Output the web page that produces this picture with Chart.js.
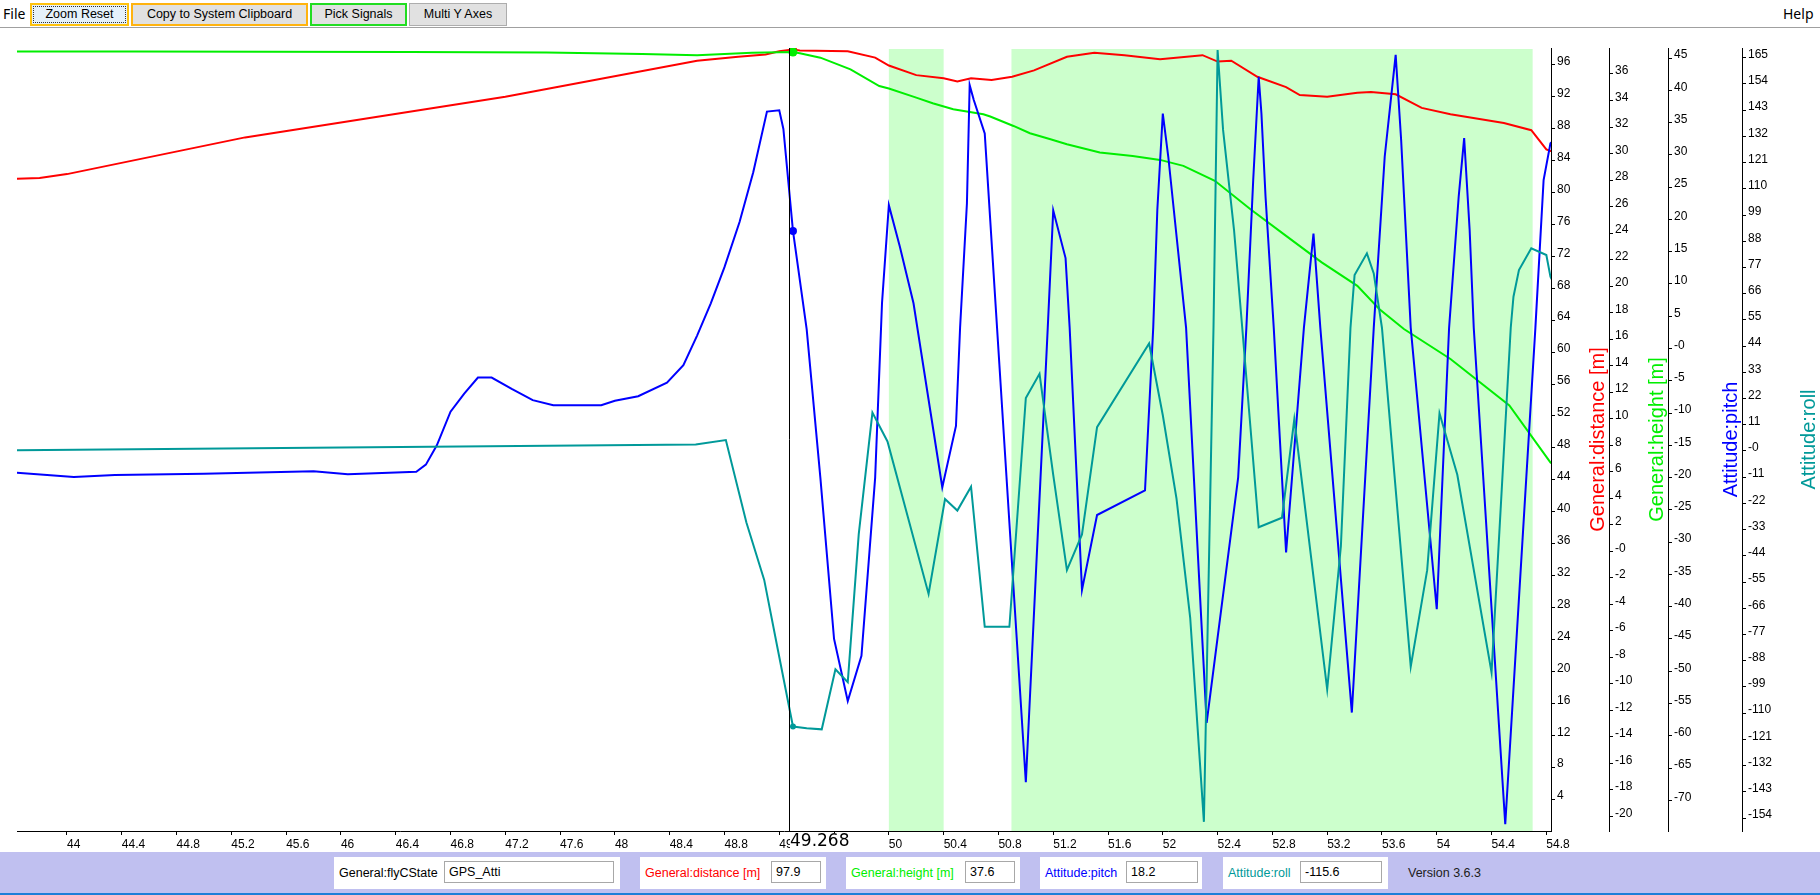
<!DOCTYPE html>
<html>
<head>
<meta charset="utf-8">
<title>Signal viewer</title>
<script src="https://cdn.jsdelivr.net/npm/chart.js@4.4.1/dist/chart.umd.min.js"></script>
<style>
  html, body { margin: 0; padding: 0; background: #fff; width: 1820px; height: 895px; overflow: hidden; font-family: "Liberation Sans", Arial, sans-serif; }
  #toolbar { position: absolute; left: 0; top: 0; width: 1820px; height: 27px; border-bottom: 1px solid #a0a0a0; background: #fff; }
  .menu { position: absolute; top: 4px; font-family: "Noto Sans", sans-serif; font-size: 14px; color: #000; }
  .btn { position: absolute; top: 3px; height: 23px; box-sizing: border-box; background: #e1e1e1; font-family: "Liberation Sans", Arial, sans-serif; font-size: 12.5px; line-height: 19px; text-align: center; color: #000; }
  #chartWrap { position: absolute; left: 0; top: 28px; width: 1820px; height: 824px; }
  #status { position: absolute; left: 0; top: 852px; width: 1820px; height: 41px; background: #c0c0f0; border-bottom: 2px solid #1e7fd8; }
  .box { position: absolute; top: 5px; height: 32px; background: #fff; }
  .lbl { position: absolute; top: 9px; font-size: 12.5px; white-space: nowrap; }
  .inp { position: absolute; top: 4px; height: 22px; box-sizing: border-box; border: 1px solid #a8a8a8; background: #fff; font-size: 12.5px; line-height: 20px; padding-left: 4px; color: #000; }
  #version { position: absolute; left: 1408px; top: 14px; font-size: 12.5px; color: #202020; }
</style>
</head>
<body>
<div id="toolbar">
  <div class="menu" style="left:3px;">File</div>
  <div class="btn" style="left:30px;width:99px;border:2px solid #ffc20e;background:#e5f1fb;"><div style="border:1px dotted #333;height:15px;line-height:15px;margin:1px;">Zoom Reset</div></div>
  <div class="btn" style="left:131px;width:177px;border:2px solid #ffb30f;">Copy to System Clipboard</div>
  <div class="btn" style="left:310px;width:97px;border:2px solid #22dd22;">Pick Signals</div>
  <div class="btn" style="left:409px;width:98px;border:1px solid #adadad;line-height:21px;">Multi Y Axes</div>
  <div class="menu" style="left:1783px;">Help</div>
</div>
<div id="chartWrap"><canvas id="plot" width="1820" height="824"></canvas></div>
<div id="status">
  <div class="box" style="left:334px;width:286px;">
    <div class="lbl" style="left:5px;color:#000;">General:flyCState</div>
    <div class="inp" style="left:110px;width:170px;">GPS_Atti</div>
  </div>
  <div class="box" style="left:640px;width:186px;">
    <div class="lbl" style="left:5px;color:#ff0000;">General:distance [m]</div>
    <div class="inp" style="left:131px;width:50px;">97.9</div>
  </div>
  <div class="box" style="left:846px;width:174px;">
    <div class="lbl" style="left:5px;color:#00ee00;">General:height [m]</div>
    <div class="inp" style="left:119px;width:50px;">37.6</div>
  </div>
  <div class="box" style="left:1040px;width:162px;">
    <div class="lbl" style="left:5px;color:#0000ff;">Attitude:pitch</div>
    <div class="inp" style="left:86px;width:72px;">18.2</div>
  </div>
  <div class="box" style="left:1223px;width:165px;">
    <div class="lbl" style="left:5px;color:#009999;">Attitude:roll</div>
    <div class="inp" style="left:77px;width:82px;">-115.6</div>
  </div>
  <div id="version">Version 3.6.3</div>
</div>

<script>
// ---- data ----
var xTicks = [44, 44.4, 44.8, 45.2, 45.6, 46, 46.4, 46.8, 47.2, 47.6, 48, 48.4, 48.8, 49.2, 49.6, 50, 50.4, 50.8, 51.2, 51.6, 52, 52.4, 52.8, 53.2, 53.6, 54, 54.4, 54.8];
var distTicks = [4, 8, 12, 16, 20, 24, 28, 32, 36, 40, 44, 48, 52, 56, 60, 64, 68, 72, 76, 80, 84, 88, 92, 96];
var heightTicks = [-20, -18, -16, -14, -12, -10, -8, -6, -4, -2, 0, 2, 4, 6, 8, 10, 12, 14, 16, 18, 20, 22, 24, 26, 28, 30, 32, 34, 36];
var pitchTicks = [-70, -65, -60, -55, -50, -45, -40, -35, -30, -25, -20, -15, -10, -5, 0, 5, 10, 15, 20, 25, 30, 35, 40, 45];
var rollTicks = [-154, -143, -132, -121, -110, -99, -88, -77, -66, -55, -44, -33, -22, -11, 0, 11, 22, 33, 44, 55, 66, 77, 88, 99, 110, 121, 132, 143, 154, 165];

// flyCState = GPS_Atti periods (shaded)
var bandStarts = [50.0, 50.895];
var bandEnds = [50.4, 54.70];

var cursorTime = 49.268;
var markerTime = 49.3;

var distTimes = [43.6, 43.8, 44.0, 45.3, 47.2, 48.6, 48.9, 49.1, 49.2, 49.3, 49.35, 49.7, 49.9, 50.0, 50.2, 50.4, 50.5, 50.6, 50.75, 50.9, 51.06, 51.3, 51.5, 51.72, 51.98, 52.29, 52.4, 52.5, 52.69, 52.9, 53.0, 53.2, 53.42, 53.52, 53.7, 53.89, 54.1, 54.49, 54.69, 54.8, 54.83, 54.9];
var distValues = [81.7, 81.8, 82.3, 86.9, 92.0, 96.5, 97.0, 97.3, 97.7, 97.9, 97.8, 97.7, 96.9, 95.9, 94.7, 94.3, 93.9, 94.3, 94.1, 94.5, 95.3, 97.0, 97.5, 97.2, 96.7, 97.2, 96.4, 96.5, 94.5, 93.2, 92.2, 92.0, 92.5, 92.6, 92.3, 90.6, 89.8, 88.7, 87.8, 85.4, 85.2, 85.0];

var heightTimes = [43.6, 44.5, 45.5, 46.5, 47.5, 48.2, 48.6, 49.0, 49.3, 49.35, 49.5, 49.72, 49.93, 50.0, 50.2, 50.32, 50.47, 50.69, 50.74, 50.91, 51.03, 51.18, 51.3, 51.54, 51.78, 51.98, 52.15, 52.38, 52.64, 52.9, 53.16, 53.42, 53.58, 53.76, 54.1, 54.53, 54.83, 54.9];
var heightValues = [37.7, 37.7, 37.68, 37.66, 37.62, 37.5, 37.41, 37.61, 37.66, 37.56, 37.23, 36.35, 35.09, 34.9, 34.22, 33.79, 33.34, 32.96, 32.79, 32.08, 31.53, 31.08, 30.7, 30.08, 29.82, 29.52, 29.07, 27.94, 25.8, 23.79, 21.79, 20.02, 18.27, 16.76, 14.5, 11.0, 6.7, 6.2];

var pitchTimes = [43.6, 44.05, 44.35, 45.0, 45.8, 46.05, 46.55, 46.62, 46.7, 46.8, 46.9, 47.0, 47.1, 47.25, 47.4, 47.55, 47.9, 48.0, 48.17, 48.38, 48.5, 48.6, 48.7, 48.8, 48.91, 49.01, 49.11, 49.2, 49.23, 49.3, 49.4, 49.5, 49.6, 49.7, 49.8, 49.9, 49.95, 50.0, 50.08, 50.18, 50.39, 50.49, 50.52, 50.57, 50.59, 50.62, 50.7, 51.0, 51.16, 51.2, 51.29, 51.32, 51.41, 51.52, 51.87, 51.93, 51.96, 52.0, 52.04, 52.17, 52.32, 52.55, 52.61, 52.66, 52.7, 52.72, 52.75, 52.81, 52.9, 53.03, 53.1, 53.15, 53.38, 53.54, 53.62, 53.7, 53.74, 53.81, 54.0, 54.09, 54.16, 54.2, 54.24, 54.27, 54.5, 54.72, 54.78, 54.83, 54.9];
var pitchValues = [-19.2, -19.9, -19.6, -19.4, -19.0, -19.5, -19.1, -18.0, -15.0, -9.8, -7.0, -4.5, -4.5, -6.3, -8.0, -8.8, -8.8, -8.1, -7.4, -5.3, -2.6, 2.0, 7.0, 12.6, 19.6, 27.3, 36.7, 36.9, 34.0, 18.2, 3.0, -20, -45, -54.6, -47.6, -20, 7.0, 22.2, 15.8, 7.0, -21.5, -12, 3.2, 22.5, 40.8, 38.5, 33.3, -67.2, 3.2, 21.4, 14.0, 3.2, -37.4, -25.8, -22, 3.2, 21.5, 36.4, 29.7, 3.2, -58, -20, 3.2, 26.1, 42.1, 36.4, 23.5, 3.2, -31.6, 3.2, 17.8, 3.2, -56.4, 3.2, 29.7, 45.5, 32.3, 3.2, -40.4, 3.2, 23.5, 32.6, 18.4, 3.2, -73.7, 3.2, 26.1, 31.8, 33];

var rollTimes = [43.6, 48.59, 48.81, 48.96, 49.09, 49.19, 49.3, 49.4, 49.51, 49.61, 49.7, 49.78, 49.88, 49.99, 50.29, 50.41, 50.5, 50.6, 50.7, 50.88, 51.0, 51.1, 51.2, 51.3, 51.41, 51.52, 51.9, 52.0, 52.1, 52.2, 52.3, 52.37, 52.4, 52.44, 52.52, 52.58, 52.7, 52.87, 52.96, 53.1, 53.2, 53.3, 53.37, 53.4, 53.49, 53.54, 53.6, 53.81, 53.93, 54.02, 54.15, 54.4, 54.54, 54.56, 54.6, 54.69, 54.8, 54.83, 54.9];
var rollValues = [0.3, 2.7, 4.6, -30, -54.1, -83.5, -115.6, -116.3, -116.8, -91.6, -97, -35, 16.1, 4, -60, -20.2, -25, -15, -73.8, -73.8, 22.2, 32.4, -10, -50, -35, 10, 45.1, 15, -20, -70, -155.6, 51.6, 168.2, 134.7, 92.7, 51.6, -32, -28, 13.3, -52.8, -100, -40, 51.6, 73.8, 82.9, 74.5, 51.6, -90.5, -50, 15.8, -10, -92.9, 51.6, 64.7, 75.9, 85, 82.2, 73.1, 65];

var axisTitles = ['General:distance [m]', 'General:height [m]', 'Attitude:pitch', 'Attitude:roll'];
var axisIds = ['dist', 'height', 'pitch', 'roll'];
var colors = ['#ff0000', '#00ee00', '#0000ff', '#009999'];

function series(times, values) {
    return times.map(function(t, i) { return {x: t, y: values[i]}; });
}

function markerRadius(r) {
    return function(ctx) {
        return ctx.raw && ctx.raw.x === markerTime ? r : 0;
    };
}

function setTicks(list) {
    return function(scale) {
        scale.ticks = list.map(function(v) { return {value: v}; });
    };
}

function yAxis(min, max, ticks, width) {
    return {
        type: 'linear',
        position: 'right',
        min: min,
        max: max,
        afterBuildTicks: setTicks(ticks),
        afterFit: function(s) { s.width = width; },
        grid: { drawOnChartArea: false, tickLength: 4, color: '#000' },
        border: { color: '#000', width: 1 },
        ticks: {
            autoSkip: false,
            color: '#000',
            padding: 2,
            // second empty line lifts the label a few px above its tick, like the original
            font: { size: 12, lineHeight: 0.5 },
            callback: function(v) { return [v === 0 ? '-0' : String(v), '']; }
        }
    };
}

// shaded GPS_Atti bands, drawn under the lines
var bandPlugin = {
    id: 'bands',
    beforeDatasetsDraw: function(chart) {
        var ctx = chart.ctx, a = chart.chartArea, xs = chart.scales.x;
        ctx.save();
        ctx.fillStyle = '#ccffcc';
        for (var i = 0; i < bandStarts.length; i++) {
            var x0 = xs.getPixelForValue(bandStarts[i]);
            var x1 = xs.getPixelForValue(bandEnds[i]);
            ctx.fillRect(x0, a.top + 1, x1 - x0, a.bottom - a.top - 1);
        }
        ctx.restore();
    }
};

// cursor line, its time label and the rotated axis titles
var overlayPlugin = {
    id: 'overlay',
    afterDatasetsDraw: function(chart) {
        var ctx = chart.ctx, a = chart.chartArea;
        var cx = Math.round(chart.scales.x.getPixelForValue(cursorTime)) + 0.5;
        ctx.save();
        ctx.strokeStyle = '#000';
        ctx.lineWidth = 1;
        ctx.beginPath();
        ctx.moveTo(cx, a.top);
        ctx.lineTo(cx, a.bottom);
        ctx.stroke();
        ctx.restore();
    },
    afterDraw: function(chart) {
        var ctx = chart.ctx, a = chart.chartArea;
        var cx = Math.round(chart.scales.x.getPixelForValue(cursorTime));
        ctx.save();
        ctx.font = '17px "DejaVu Sans", sans-serif';
        var label = cursorTime.toFixed(3);
        var w = ctx.measureText(label).width;
        ctx.fillStyle = '#fff';
        ctx.fillRect(cx + 1, a.bottom + 2, w + 10, 19);
        ctx.fillStyle = '#000';
        ctx.textBaseline = 'top';
        ctx.fillText(label, cx + 1, a.bottom + 2);

        ctx.font = '20px "Liberation Sans", Arial, sans-serif';
        ctx.textAlign = 'center';
        ctx.textBaseline = 'middle';
        var cy = (a.top + a.bottom) / 2;
        for (var i = 0; i < axisIds.length; i++) {
            var s = chart.scales[axisIds[i]];
            ctx.save();
            ctx.translate(s.right - 11, cy);
            ctx.rotate(-Math.PI / 2);
            ctx.fillStyle = colors[i];
            ctx.fillText(axisTitles[i], 0, 0);
            ctx.restore();
        }
        ctx.restore();
    }
};

Chart.defaults.font.family = '"Liberation Sans", Arial, sans-serif';

function lineSet(label, times, values, color, axis, r) {
    return {
        label: label,
        data: series(times, values),
        yAxisID: axis,
        borderColor: color,
        backgroundColor: color,
        pointBackgroundColor: color,
        pointBorderWidth: 0,
        pointRadius: markerRadius(r),
        borderWidth: 2,
        tension: 0,
        fill: false
    };
}

var ctx = document.getElementById('plot').getContext('2d');
var plot = new Chart(ctx, {
    type: 'line',
    data: {
        datasets: [
            lineSet('Attitude:roll', rollTimes, rollValues, colors[3], 'roll', 3),
            lineSet('Attitude:pitch', pitchTimes, pitchValues, colors[2], 'pitch', 4),
            lineSet('General:height [m]', heightTimes, heightValues, colors[1], 'height', 4.5),
            lineSet('General:distance [m]', distTimes, distValues, colors[0], 'dist', 4)
        ]
    },
    options: {
        responsive: false,
        animation: false,
        devicePixelRatio: 1,
        layout: { padding: { left: 17, top: 20, right: 0, bottom: 0 } },
        plugins: {
            legend: { display: false },
            tooltip: { enabled: false }
        },
        scales: {
            x: {
                type: 'linear',
                position: 'bottom',
                min: 43.635,
                max: 54.834,
                afterBuildTicks: setTicks(xTicks),
                afterFit: function(s) { s.height = 21; },
                grid: { drawOnChartArea: false, tickLength: 4, color: '#000' },
                border: { color: '#000', width: 1 },
                ticks: {
                    autoSkip: false,
                    maxRotation: 0,
                    align: 'start',
                    padding: 2,
                    color: '#000',
                    font: { size: 12 },
                    callback: function(v) { return String(v); }
                }
            },
            dist: yAxis(0, 98.1, distTicks, 58),
            height: yAxis(-21.1, 37.96, heightTicks, 59),
            pitch: yAxis(-74.75, 46.55, pitchTicks, 74),
            roll: yAxis(-159.45, 169.07, rollTicks, 78)
        }
    },
    plugins: [bandPlugin, overlayPlugin]
});
</script>
</body>
</html>
